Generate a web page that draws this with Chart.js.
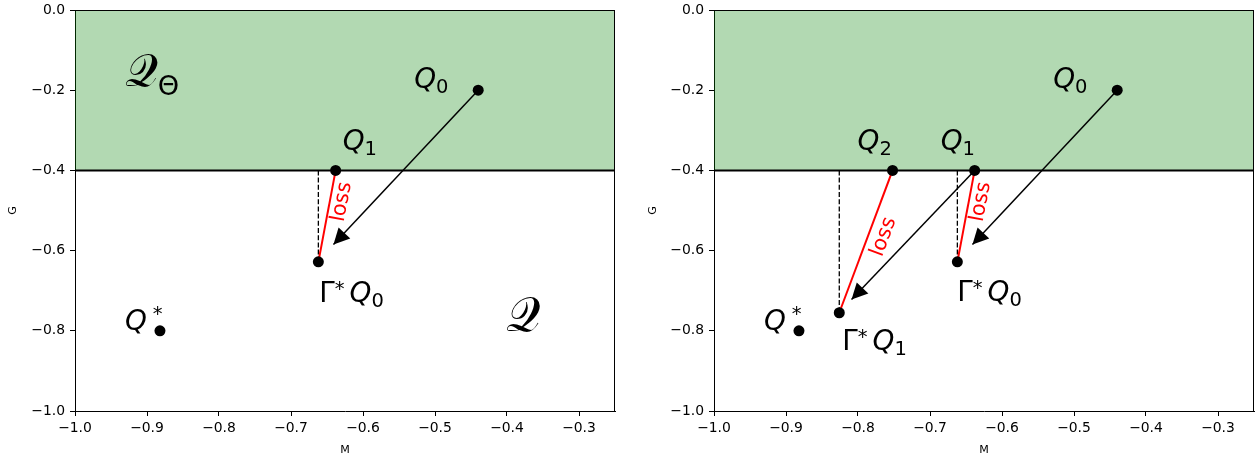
<!DOCTYPE html>
<html lang="en">
<head>
<meta charset="UTF-8">
<title>Projection onto Q_Theta</title>
<script src="https://cdn.jsdelivr.net/npm/chart.js"></script>
<style>
    body { margin: 0; background: #ffffff; overflow: hidden; }
    #left { position: absolute; left: 0; top: 0; }
    #right { position: absolute; left: 640px; top: 0; }
</style>
</head>
<body>
<canvas id="left" width="640" height="457"></canvas>
<canvas id="right" width="616" height="457"></canvas>
<script>
const xTicks = [-1.0, -0.9, -0.8, -0.7, -0.6, -0.5, -0.4, -0.3];
const yTicks = [0.0, -0.2, -0.4, -0.6, -0.8, -1.0];
const xRange = [-1.0, -0.25];
const yRange = [-1.0, 0.0];
const boundaryG = -0.4;   // lower edge of the shaded set

// points as (M, G)
const Q0 = [-0.44, -0.2];
const Q1 = [-0.638, -0.4];
const Q2 = [-0.752, -0.4];
const GQ0 = [-0.662, -0.628];
const GQ1 = [-0.826, -0.755];
const Qstar = [-0.882, -0.8];
// where the black arrows stop
const tipFromQ0 = [-0.641, -0.585];
const tipFromQ1 = [-0.809, -0.722];

const leftPoints = [Q0, Q1, GQ0, Qstar];
const rightPoints = [Q0, Q1, Q2, GQ0, GQ1, Qstar];

Chart.defaults.font.family = 'DejaVu Sans';

const MATH = '"DejaVu Sans"';
const CAL = '"DejaVu Serif", "DejaVu Sans", "Liberation Serif"';
const BIG = 27.8, SMALL = 19.5;

function fmt(v) {
    return v.toFixed(1).replace('-', '\u2212');
}

function pt(p) {
    return {x: p[0], y: p[1]};
}

// pieces of a math label: text, italic, size, baseline shift, gap before
function Qsub(s) {
    return [{t: 'Q', it: true, s: BIG}, {t: s, s: SMALL, dy: 5}];
}
function GammaStar(s) {
    return [{t: '\u0393', s: BIG}, {t: '*', s: SMALL, dy: -7}, {t: 'Q', it: true, s: BIG, gap: 5}, {t: s, s: SMALL, dy: 5}];
}
const QstarParts = [{t: 'Q', it: true, s: BIG}, {t: '*', s: SMALL, dy: -10, gap: 6}];

function drawMath(ctx, x, y, parts) {
    let cx = x;
    parts.forEach(p => {
        cx += p.gap || 0;
        ctx.font = p.font || ((p.it ? 'italic ' : '') + p.s + 'px ' + MATH);
        ctx.fillText(p.t, cx, y + (p.dy || 0));
        cx += ctx.measureText(p.t).width;
    });
}

const annotate = {
    id: 'annotate',
    afterDatasetsDraw(chart, args, o) {
        const ctx = chart.ctx;
        const xs = chart.scales.x, ys = chart.scales.y;
        const px = p => ({x: xs.getPixelForValue(p[0]), y: ys.getPixelForValue(p[1])});
        ctx.save();

        // arrow heads
        ctx.fillStyle = '#000';
        o.arrows.forEach(a => {
            const p0 = px(a[0]), p1 = px(a[1]);
            const ang = Math.atan2(p1.y - p0.y, p1.x - p0.x);
            const L = 16, W = 8;
            const ux = Math.cos(ang), uy = Math.sin(ang);
            ctx.beginPath();
            ctx.moveTo(p1.x, p1.y);
            ctx.lineTo(p1.x - L * ux - W * uy, p1.y - L * uy + W * ux);
            ctx.lineTo(p1.x - L * ux + W * uy, p1.y - L * uy - W * ux);
            ctx.closePath();
            ctx.fill();
        });

        // "loss" along the red segments
        ctx.fillStyle = '#ff0000';
        ctx.font = '20.8px ' + MATH;
        ctx.textAlign = 'center';
        ctx.textBaseline = 'middle';
        o.loss.forEach((l, i) => {
            const p0 = px(l[0]), p1 = px(l[1]);
            const t = o.lossAt[i][0], off = o.lossAt[i][1];
            const ang = Math.atan2(p0.y - p1.y, p0.x - p1.x);
            ctx.save();
            ctx.translate(p0.x + t * (p1.x - p0.x), p0.y + t * (p1.y - p0.y));
            ctx.rotate(ang);
            ctx.fillText('loss', 0, off);
            ctx.restore();
        });

        // point labels
        ctx.fillStyle = '#000';
        ctx.textAlign = 'left';
        ctx.textBaseline = 'alphabetic';
        o.labels.forEach(l => {
            const p = px(l.at);
            drawMath(ctx, p.x + l.dx, p.y + l.dy, l.parts);
        });
        (o.regions || []).forEach(r => {
            const p = px(r.at);
            drawMath(ctx, p.x, p.y, r.parts);
        });
        ctx.restore();
    },
    afterDraw(chart) {
        const ctx = chart.ctx, a = chart.chartArea;
        ctx.save();
        ctx.strokeStyle = '#000';
        ctx.lineWidth = 1;
        ctx.beginPath();
        ctx.moveTo(a.left, Math.round(a.top) + 0.5);
        ctx.lineTo(a.right, Math.round(a.top) + 0.5);
        ctx.moveTo(Math.round(a.right) - 0.5, a.top);
        ctx.lineTo(Math.round(a.right) - 0.5, a.bottom);
        ctx.stroke();
        ctx.restore();
    }
};

function makeChart(id, cfg) {
    // listed top layer first; Chart.js paints dataset 0 last
    const datasets = [];
    datasets.push({
        data: cfg.points.map(pt), showLine: false,
        pointRadius: 5.5, pointBackgroundColor: '#000', pointBorderWidth: 0
    });
    cfg.loss.forEach(l => datasets.push({
        data: [pt(l[0]), pt(l[1])], borderColor: '#ff0000', borderWidth: 2, pointRadius: 0
    }));
    cfg.arrows.forEach(a => datasets.push({
        data: [pt(a[0]), pt(a[1])], borderColor: '#000', borderWidth: 1.5, pointRadius: 0
    }));
    cfg.drops.forEach(p => datasets.push({
        data: [pt([p[0], boundaryG]), pt(p)],
        borderColor: '#000', borderWidth: 1.3, borderDash: [5, 2.2], pointRadius: 0
    }));
    datasets.push({
        data: [pt([xRange[0], boundaryG]), pt([xRange[1], boundaryG])],
        borderColor: '#000', borderWidth: 2, pointRadius: 0
    });
    datasets.push({
        data: [pt([xRange[0], yRange[1]]), pt([xRange[1], yRange[1]])],
        fill: {value: boundaryG}, backgroundColor: 'rgba(0,128,0,0.3)',
        borderWidth: 0, borderColor: 'rgba(0,0,0,0)', pointRadius: 0
    });

    return new Chart(document.getElementById(id), {
        type: 'line',
        data: {datasets: datasets},
        options: {
            responsive: false,
            animation: false,
            events: [],
            layout: {autoPadding: false, padding: {left: 0, top: 10, right: cfg.padRight, bottom: 0}},
            plugins: {
                legend: {display: false},
                tooltip: {enabled: false},
                annotate: cfg
            },
            scales: {
                x: {
                    type: 'linear', min: xRange[0], max: xRange[1],
                    afterBuildTicks: s => { s.ticks = xTicks.map(v => ({value: v})); },
                    afterFit: s => { s.height = 46; s.paddingLeft = 0; s.paddingRight = 0; },
                    ticks: {callback: fmt, font: {size: 13.9}, color: '#000', padding: 4, maxRotation: 0, autoSkip: false},
                    grid: {drawOnChartArea: false, tickLength: 5, tickColor: '#000', tickWidth: 1},
                    border: {color: '#000', width: 1},
                    title: {display: true, text: 'M', font: {size: 11.1}, color: '#000', padding: {top: 0, bottom: 0}}
                },
                y: {
                    type: 'linear', min: yRange[0], max: yRange[1],
                    afterBuildTicks: s => { s.ticks = yTicks.map(v => ({value: v})); },
                    afterFit: s => { s.width = cfg.axisWidth; s.paddingTop = 0; s.paddingBottom = 0; },
                    ticks: {callback: fmt, font: {size: 13.9}, color: '#000', padding: 5, autoSkip: false},
                    grid: {drawOnChartArea: false, tickLength: 5, tickColor: '#000', tickWidth: 1},
                    border: {color: '#000', width: 1},
                    title: {display: true, text: 'G', font: {size: 11.1}, color: '#000', padding: {top: 6.4, bottom: 0}}
                }
            }
        },
        plugins: [annotate]
    });
}

makeChart('left', {
    padRight: 25, axisWidth: 75,
    points: leftPoints,
    drops: [GQ0],
    arrows: [[Q0, tipFromQ0]],
    loss: [[Q1, GQ0]],
    lossAt: [[0.32, 12]],
    labels: [
        {at: Q0, dx: -64, dy: -2, parts: Qsub('0')},
        {at: Q1, dx: 7, dy: -20, parts: Qsub('1')},
        {at: GQ0, dx: 1, dy: 40, parts: GammaStar('0')},
        {at: Qstar, dx: -35, dy: -1, parts: QstarParts}
    ],
    regions: [
        {at: [-0.931, -0.19], parts: [{t: '\u{1D4AC}', font: '46px ' + CAL}, {t: '\u0398', s: 27.2, dy: 9, gap: 0}]},
        {at: [-0.401, -0.8], parts: [{t: '\u{1D4AC}', font: '48px ' + CAL}]}
    ]
});

makeChart('right', {
    padRight: 2, axisWidth: 74,
    points: rightPoints,
    drops: [GQ0, GQ1],
    arrows: [[Q0, tipFromQ0], [Q1, tipFromQ1]],
    loss: [[Q1, GQ0], [Q2, GQ1]],
    lossAt: [[0.32, 12], [0.43, 15]],
    labels: [
        {at: Q0, dx: -64, dy: -2, parts: Qsub('0')},
        {at: Q1, dx: -34, dy: -20, parts: Qsub('1')},
        {at: Q2, dx: -35, dy: -20, parts: Qsub('2')},
        {at: GQ0, dx: 0, dy: 39, parts: GammaStar('0')},
        {at: GQ1, dx: 3, dy: 37, parts: GammaStar('1')},
        {at: Qstar, dx: -35, dy: -1, parts: QstarParts}
    ]
});
</script>
</body>
</html>
